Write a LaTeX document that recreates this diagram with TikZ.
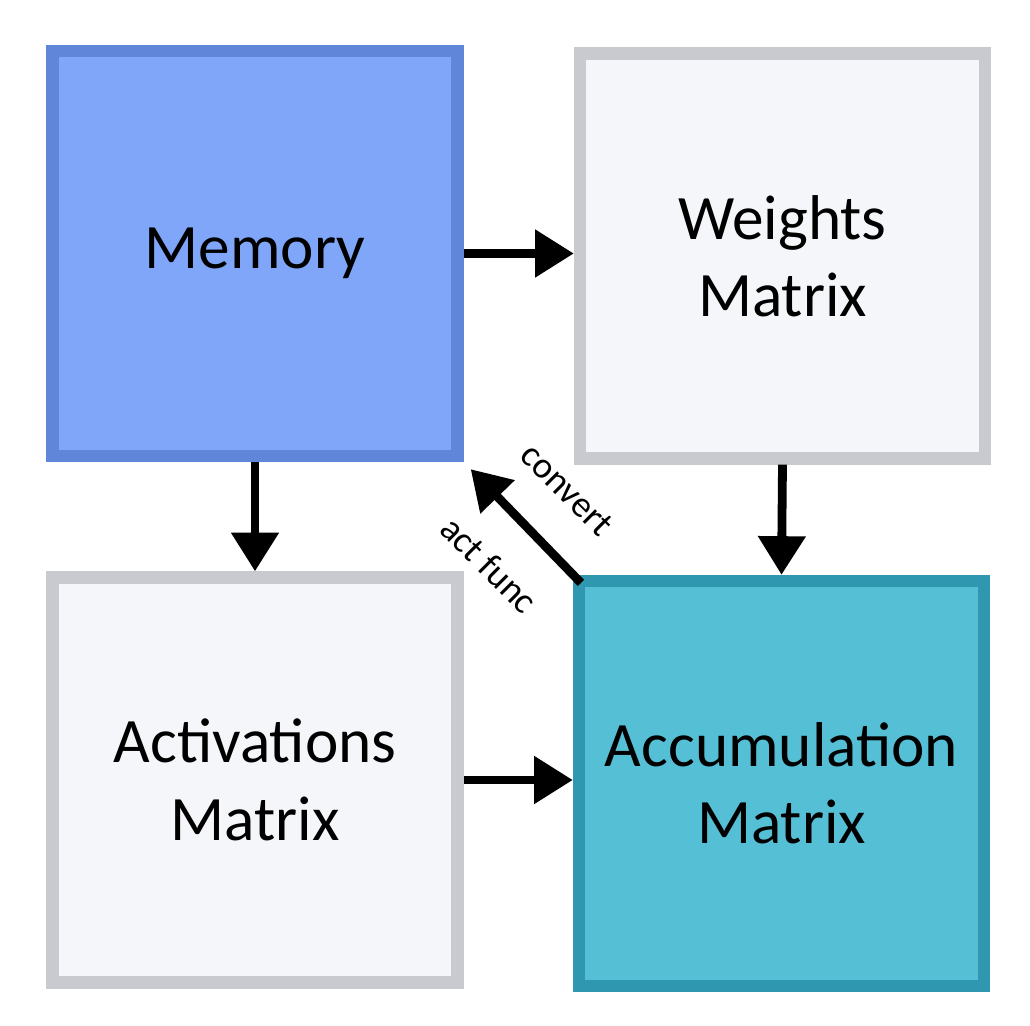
\documentclass[tikz,border=0pt]{standalone}
\usepackage{fontspec}
\setmainfont{Carlito}
\usetikzlibrary{arrows.meta,positioning}
\definecolor{memfill}{HTML}{7FA6F8}
\definecolor{memedge}{HTML}{5F86D8}
\definecolor{accfill}{HTML}{55BFD6}
\definecolor{accedge}{HTML}{2F98B0}
\definecolor{matfill}{HTML}{F4F6FA}
\definecolor{matedge}{HTML}{C8CACF}
\tikzset{
  block/.style={rectangle, minimum width=8.1cm, minimum height=8.1cm,
    line width=7pt, align=center, font=\fontsize{36}{44}\selectfont},
  flow/.style={line width=5pt, -{Triangle[length=22pt,width=26pt]}},
  tag/.style={font=\fontsize{21}{24}\selectfont, inner sep=1pt, rotate=-45}
}
\begin{document}
\begin{tikzpicture}
  \useasboundingbox[fill=white] (0,0) rectangle (20.6,-20.52);
  % the four boxes
  \node[block, fill=memfill, draw=memedge] (mem) at (5.1,-5.07) {Memory};
  \node[block, fill=matfill, draw=matedge] (wts) at (15.65,-5.12) {Weights\\Matrix};
  \node[block, fill=matfill, draw=matedge] (act) at (5.1,-15.6) {Activations\\Matrix};
  \node[block, fill=accfill, draw=accedge] (acc) at (15.63,-15.67) {Accumulation\\Matrix};
  % connectors
  \draw[flow] (mem.east) -- (wts.west |- mem.east);
  \draw[flow] (mem.south) -- (act.north);
  \draw[flow] (wts.south) -- (acc.north);
  \draw[flow] (act.east) -- (acc.west |- act.east);
  \draw[flow, shorten <=2pt] ([xshift=6pt,yshift=-6pt]acc.north west) -- ([xshift=4pt,yshift=-4pt]mem.south east)
    coordinate[pos=0.5] (mid);
  \node[tag] at ([xshift=0.8cm,yshift=0.75cm]mid) {convert};
  \node[tag] at ([xshift=-0.75cm,yshift=-0.75cm]mid) {act func};
\end{tikzpicture}
\end{document}
